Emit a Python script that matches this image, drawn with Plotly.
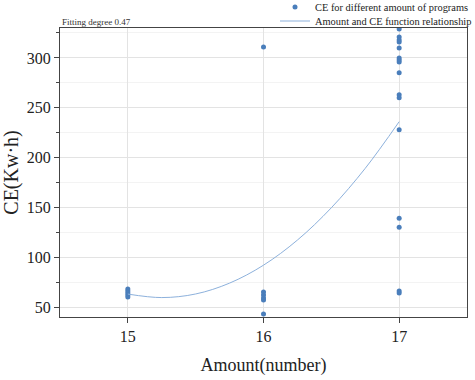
import plotly.graph_objects as go

# Scatter data: amount of programs vs CE
amount_15 = [15, 15, 15, 15, 15]
ce_15 = [68, 66, 64, 62, 60]
amount_16 = [16, 16, 16, 16, 16, 16]
ce_16 = [311, 65, 62, 59, 57, 43]
amount_17 = [17] * 16
ce_17 = [329, 321, 318, 316, 310, 300, 298, 296, 285, 263, 260, 228, 139, 130, 66, 64]

x_points = amount_15 + amount_16 + amount_17
y_points = ce_15 + ce_16 + ce_17

# Fitted curve
fit_x = [15, 15.25, 15.5, 15.75, 16, 16.25, 16.5, 16.75, 17]
fit_y = [63, 59.5, 63.1, 74.0, 92, 117.2, 149.6, 189.2, 236]

x_ticks = [15, 16, 17]
y_ticks = [50, 100, 150, 200, 250, 300]

serif = "Liberation Serif, Times New Roman, serif"
point_color = "#4a7ebb"
line_color = "#8db1dc"

fig = go.Figure()
fig.add_trace(go.Scatter(
    x=x_points, y=y_points, mode="markers",
    marker=dict(color=point_color, size=5),
    name="CE for different amount of programs", legend="legend",
))
fig.add_trace(go.Scatter(
    x=fit_x, y=fit_y, mode="lines", line=dict(color=line_color, width=1, shape="spline"),
    name="Amount and CE function relationship", legend="legend2",
))

leg_common = dict(
    xref="container", xanchor="left", yref="container", yanchor="middle",
    font=dict(size=10.4, family=serif, color="#222"),
    bgcolor="rgba(0,0,0,0)", itemwidth=30, borderwidth=0,
)

fig.update_layout(
    width=475, height=380,
    margin=dict(l=60, r=8, t=28, b=63, autoexpand=False),
    paper_bgcolor="white", plot_bgcolor="white",
    font=dict(family=serif, color="#222"),
    showlegend=True,
    legend=dict(x=275 / 475, y=1 - 7 / 380, **leg_common),
    legend2=dict(x=275 / 475, y=1 - 21 / 380, **leg_common),
    annotations=[dict(
        text="Fitting degree 0.47", x=0.0, xref="paper", xanchor="left",
        y=1.0, yref="paper", yanchor="bottom", showarrow=False,
        font=dict(size=9, family=serif, color="#333"), xshift=0, yshift=-1,
    )],
)
fig.update_xaxes(
    range=[14.5, 17.5], tickvals=x_ticks, ticks="outside", ticklen=5,
    tickfont=dict(size=16, family=serif, color="#222"),
    showline=True, linecolor="#444", linewidth=1, mirror=True,
    showgrid=True, gridcolor="#e3e3e3", gridwidth=1, zeroline=False,
    title=dict(text="Amount(number)", font=dict(size=18, family=serif, color="#222"), standoff=14),
)
fig.update_yaxes(
    range=[40, 330], tickvals=y_ticks, ticks="outside", ticklen=5,
    tickfont=dict(size=16, family=serif, color="#222"),
    showline=True, linecolor="#444", linewidth=1, mirror=True,
    showgrid=True, gridcolor="#e3e3e3", gridwidth=1, zeroline=False,
    minor=dict(tickvals=[75, 125, 175, 225, 275, 325], ticks="outside", ticklen=3,
               showgrid=True, gridcolor="#f3f3f3"),
    title=dict(text="CE(Kw·h)", font=dict(size=20, family=serif, color="#222"), standoff=5),
)

fig.write_html("out.html", config={"displayModeBar": False},
               post_script="document.body.style.margin='0';")
